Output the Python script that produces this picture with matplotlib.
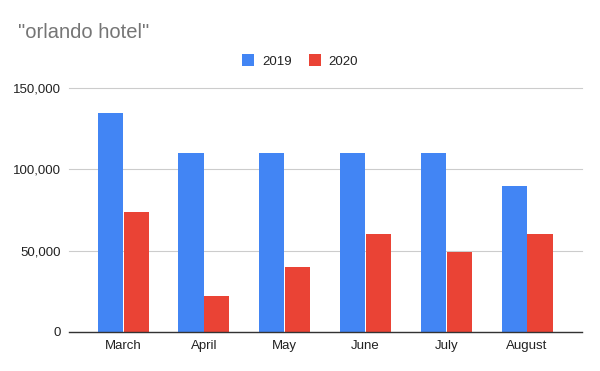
import matplotlib
matplotlib.use("Agg")
import matplotlib.pyplot as plt
import numpy as np
from matplotlib.ticker import FuncFormatter

plt.rcParams["font.family"] = ["Liberation Sans", "DejaVu Sans"]

months = ["March", "April", "May", "June", "July", "August"]
series_2019 = [134500, 110000, 110000, 110000, 110000, 90000]
series_2020 = [73500, 22000, 40000, 60000, 49000, 60000]
y_ticks = [0, 50000, 100000, 150000]

blue = "#4285F4"
red = "#EA4335"

fig = plt.figure(figsize=(6, 3.71), dpi=100)
ax = fig.add_axes([69/600, 1 - 332/371, (582-69)/600, (332-88)/371])

x = np.arange(len(months))
w = 0.31
ax.bar(x - w/2 - 0.005, series_2019, width=w, color=blue, label="2019", zorder=3)
ax.bar(x + w/2 + 0.005, series_2020, width=w, color=red, label="2020", zorder=3)

ax.set_xlim(-0.67, 5.68)
ax.set_ylim(0, 150000)
ax.set_yticks(y_ticks)
ax.yaxis.set_major_formatter(FuncFormatter(lambda v, p: f"{int(v):,}"))
ax.grid(axis="y", color="#cccccc", linewidth=0.8, zorder=0)
for gl in ax.get_ygridlines():
    gl.set_clip_on(False)
ax.set_xticks(x)
ax.set_xticklabels(months)
for s in ["top", "right", "left"]:
    ax.spines[s].set_visible(False)
ax.spines["bottom"].set_color("#333333")
ax.spines["bottom"].set_linewidth(1.0)
ax.spines["bottom"].set_zorder(4)
ax.tick_params(axis="both", length=0, labelsize=9.5, colors="#222222")
ax.tick_params(axis="y", pad=6)
ax.tick_params(axis="x", pad=6)

fig.text(18/600, 1 - 33/371, "\"orlando hotel\"", fontsize=14.5, color="#757575",
         ha="left", va="center")
leg = fig.legend(loc="center", bbox_to_anchor=(300/600, 1 - 61/371), ncol=2,
                 frameon=False, fontsize=9.5, handlelength=0.9, handleheight=1.0,
                 columnspacing=1.3, handletextpad=0.6)
for t in leg.get_texts():
    t.set_color("#222222")

fig.savefig("out.png", dpi=100)
